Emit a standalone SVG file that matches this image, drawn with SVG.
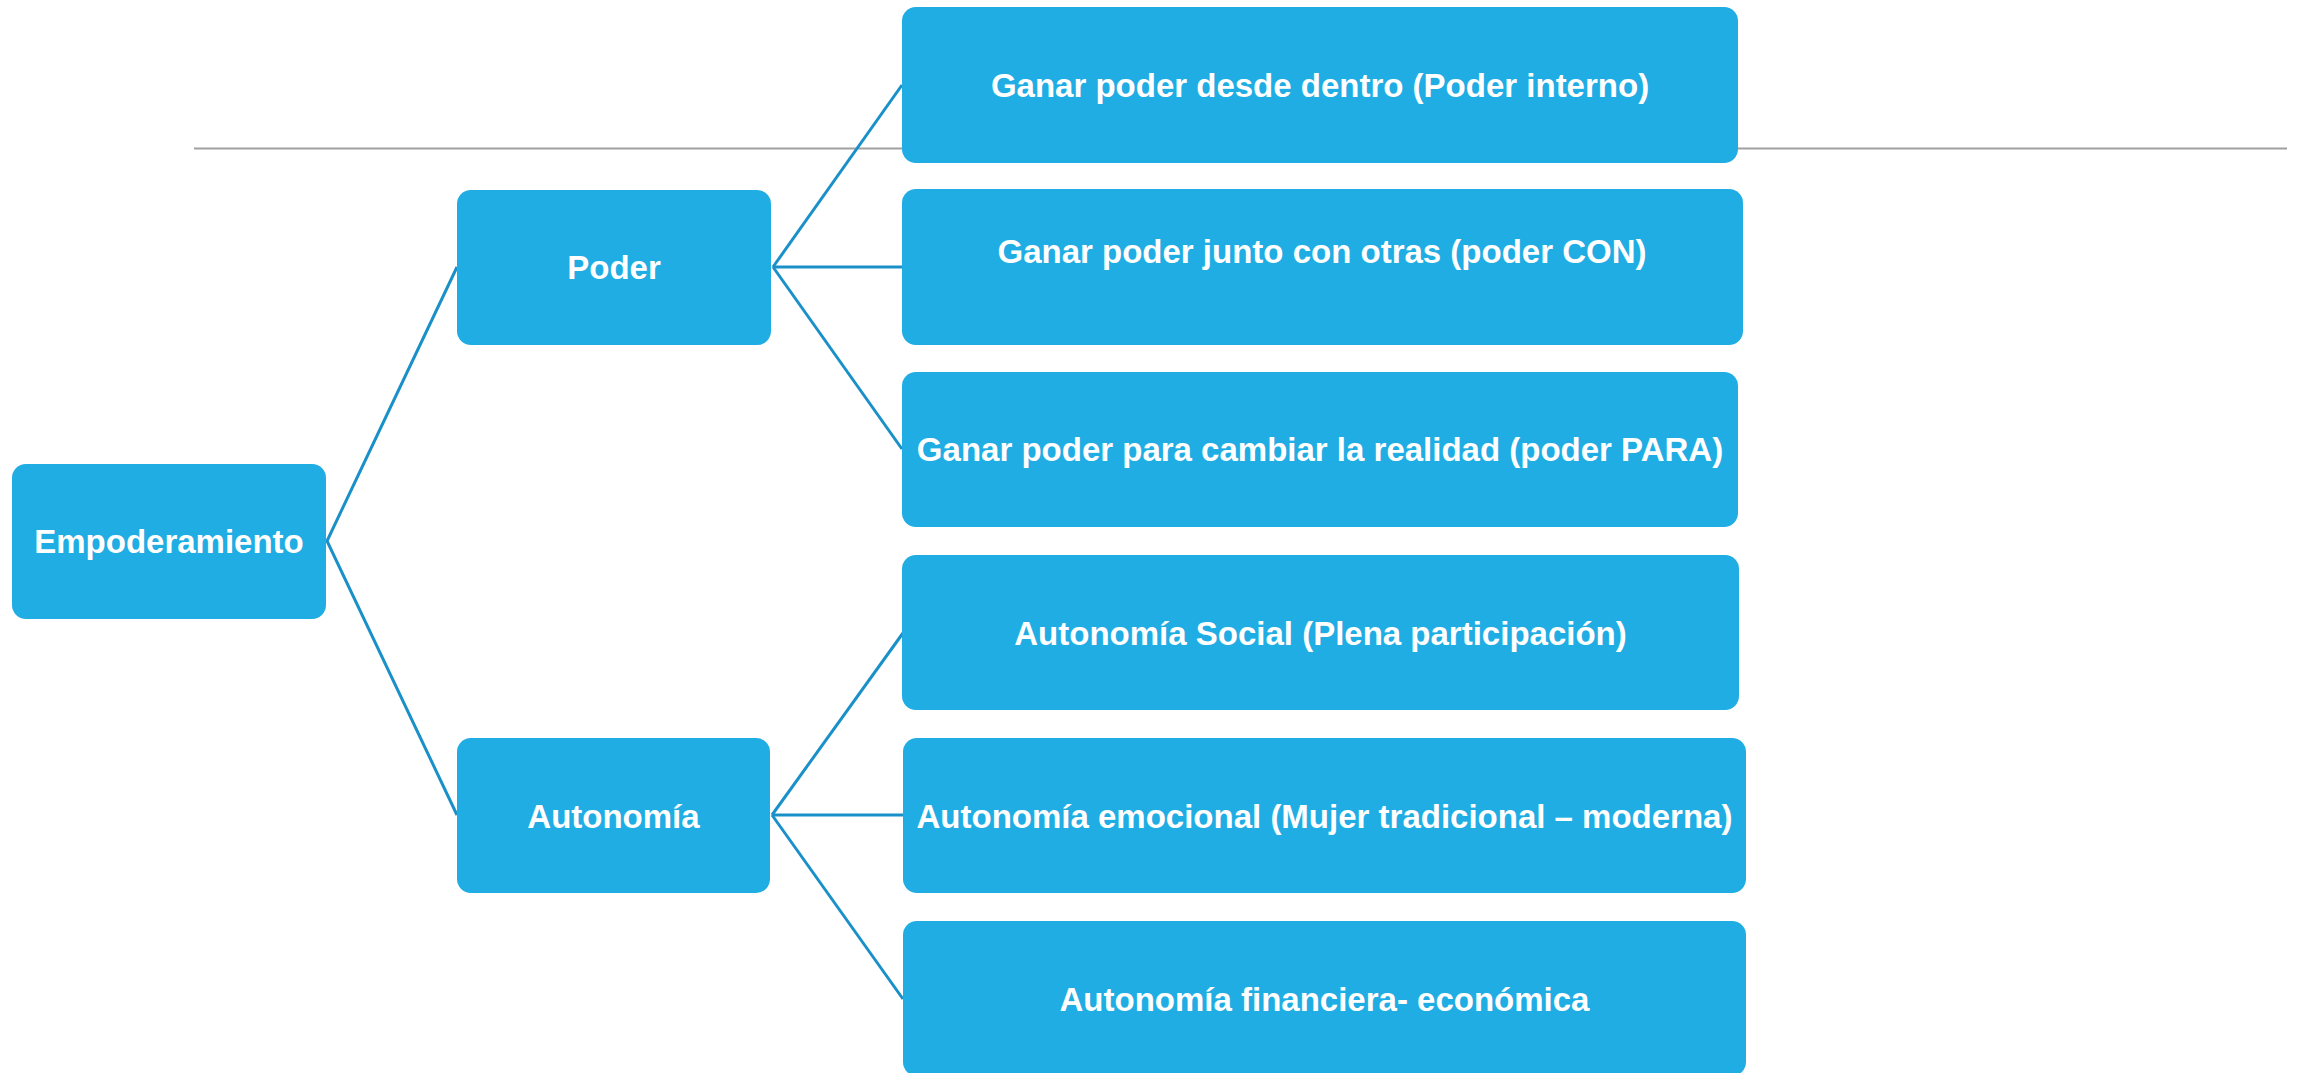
<svg xmlns="http://www.w3.org/2000/svg" width="2297" height="1073" viewBox="0 0 2297 1073">
<style>
.box{fill:#1fade4;}
.lbl{font-family:"Liberation Sans",Arial,sans-serif;font-weight:bold;font-size:33px;fill:#ffffff;text-anchor:middle;}
.conn{stroke:#1a90c8;stroke-width:3;fill:none;stroke-linejoin:miter;}
</style>
<rect width="2297" height="1073" fill="#ffffff"/>
<line x1="194" y1="148.5" x2="2287" y2="148.5" stroke="#a0a0a0" stroke-width="1.8"/>
<g id="connectors">
<polyline class="conn" points="457,267 327,541 457,815"/>
<line class="conn" x1="773" y1="267" x2="902" y2="85"/>
<line class="conn" x1="773" y1="267" x2="902" y2="267"/>
<line class="conn" x1="773" y1="267" x2="902" y2="449"/>
<line class="conn" x1="772" y1="815" x2="903" y2="633"/>
<line class="conn" x1="772" y1="815" x2="903" y2="815"/>
<line class="conn" x1="772" y1="815" x2="903" y2="999"/>
</g>
<g id="empoderamiento">
<rect class="box" x="12" y="464" width="314" height="155" rx="14"/>
<text class="lbl" x="169" y="553">Empoderamiento</text>
</g>
<g id="poder">
<rect class="box" x="457" y="190" width="314" height="155" rx="14"/>
<text class="lbl" x="614" y="279">Poder</text>
</g>
<g id="autonomia">
<rect class="box" x="457" y="738" width="313" height="155" rx="14"/>
<text class="lbl" x="613.5" y="828">Autonomía</text>
</g>
<g id="poder-interno">
<rect class="box" x="902" y="7" width="836" height="156" rx="14"/>
<text class="lbl" x="1320" y="97">Ganar poder desde dentro (Poder interno)</text>
</g>
<g id="poder-con">
<rect class="box" x="902" y="189" width="841" height="156" rx="14"/>
<text class="lbl" x="1322" y="263">Ganar poder junto con otras (poder CON)</text>
</g>
<g id="poder-para">
<rect class="box" x="902" y="372" width="836" height="155" rx="14"/>
<text class="lbl" x="1320" y="461">Ganar poder para cambiar la realidad (poder PARA)</text>
</g>
<g id="autonomia-social">
<rect class="box" x="902" y="555" width="837" height="155" rx="14"/>
<text class="lbl" x="1320.5" y="645">Autonomía Social (Plena participación)</text>
</g>
<g id="autonomia-emocional">
<rect class="box" x="903" y="738" width="843" height="155" rx="14"/>
<text class="lbl" x="1324.5" y="828">Autonomía emocional (Mujer tradicional – moderna)</text>
</g>
<g id="autonomia-financiera">
<rect class="box" x="903" y="921" width="843" height="155" rx="14"/>
<text class="lbl" x="1324.5" y="1011">Autonomía financiera- económica</text>
</g>
</svg>
